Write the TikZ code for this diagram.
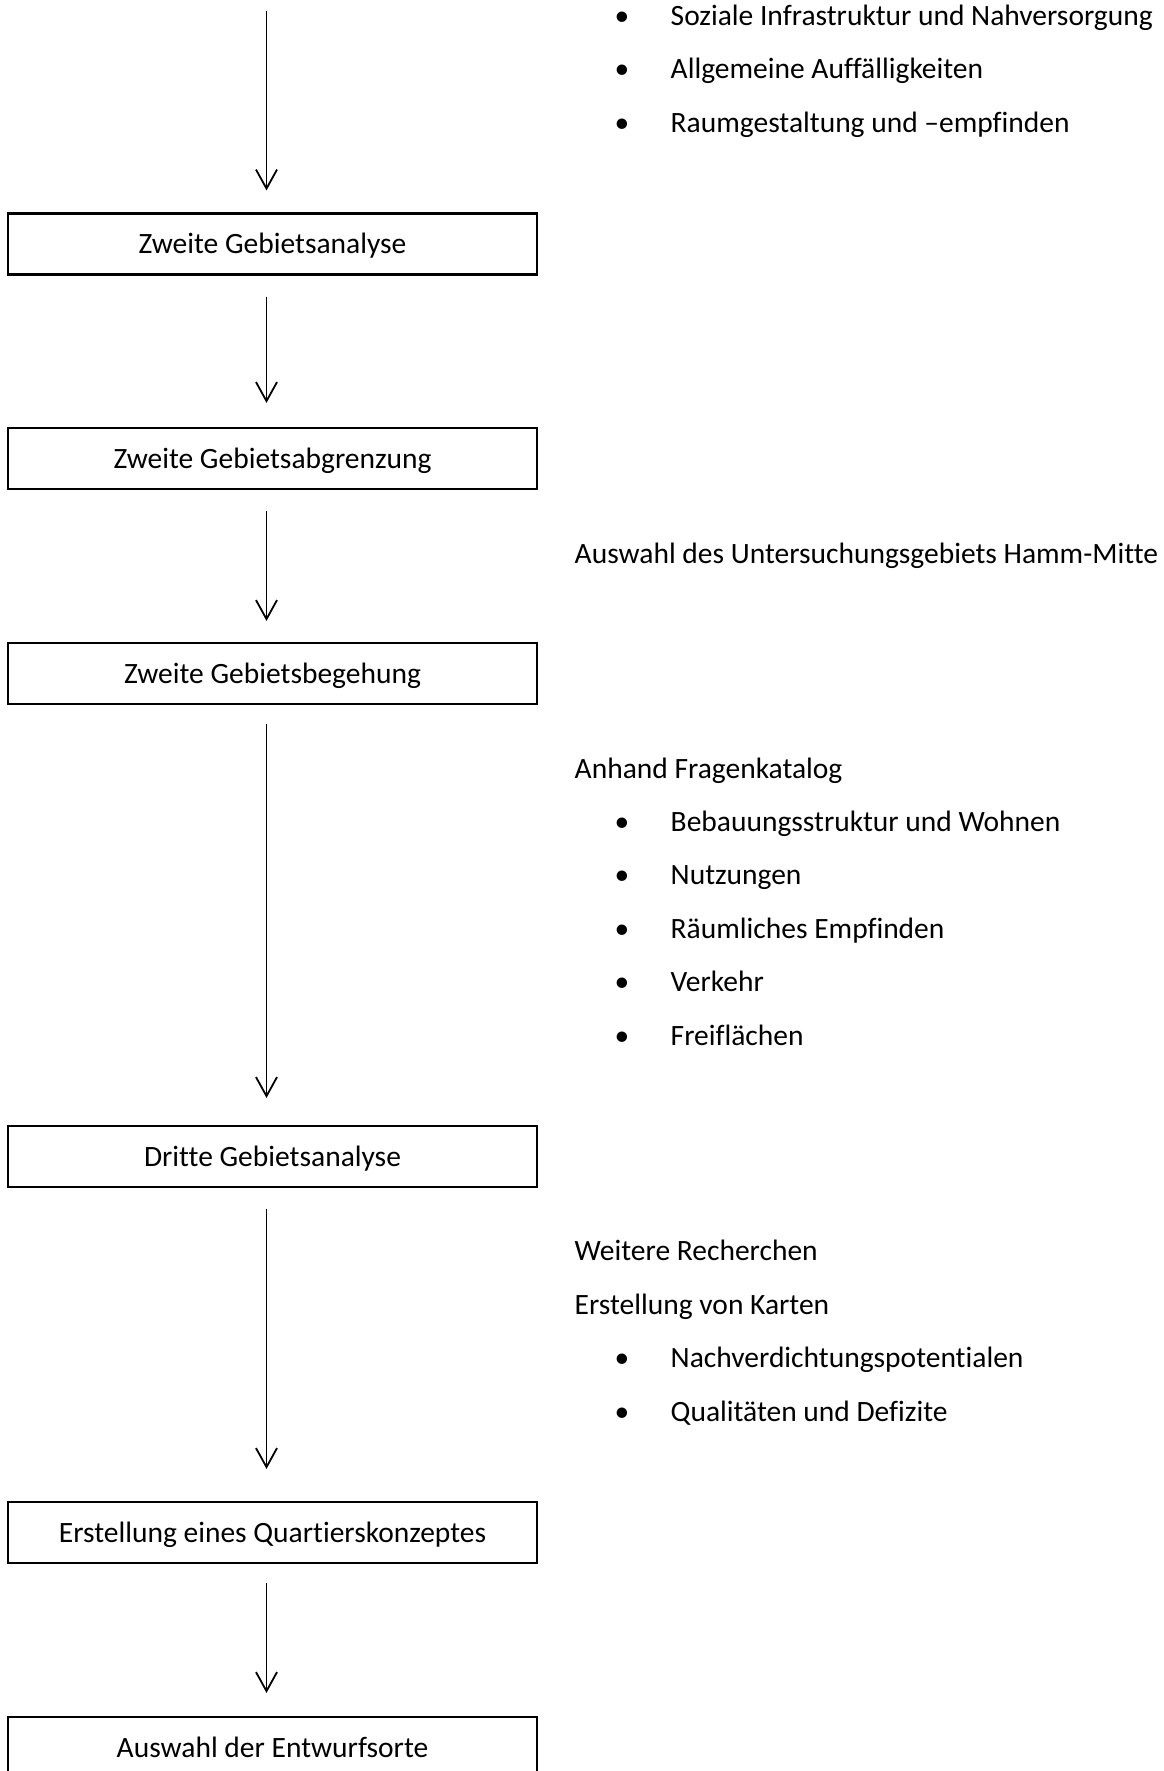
\documentclass[tikz,border=0pt]{standalone}
\usepackage{fontspec}
\setmainfont{Carlito}[Ligatures={NoCommon,NoContextual}]
\usetikzlibrary{arrows.meta}
\begin{document}
\begin{tikzpicture}[x=1pt,y=-1pt,
  stepbox/.style={draw,line width=2.1pt,minimum width=529pt,minimum height=61pt,inner sep=0pt,anchor=center},
  boxtext/.style={anchor=mid,inner sep=0pt,font=\fontsize{29.5}{34}\selectfont},
  lbl/.style={anchor=mid west,inner sep=0pt,font=\fontsize{29.5}{34}\selectfont},
  bul/.style={anchor=mid,inner sep=0pt,font=\fontsize{29.5}{34}\selectfont},
  arr/.style={line width=1.8pt,-{Straight Barb[length=19pt,width=21pt,line width=1.8pt]}}]
\useasboundingbox (0,0) rectangle (1163,1771);
\begin{scope}
\clip (0,0) rectangle (1163,1771);
\node[stepbox] (b1) at (272.5,244) {};
\node[stepbox] (b2) at (272.5,458.5) {};
\node[stepbox] (b3) at (272.5,673.5) {};
\node[stepbox] (b4) at (272.5,1156.5) {};
\node[stepbox] (b5) at (272.5,1532.5) {};
\node[stepbox] (b6) at (272.5,1747.5) {};
\node[boxtext] (l1) at ([yshift=-7.5pt]b1.center) {Zweite Gebietsanalyse};
\node[boxtext] (l2) at ([yshift=-7.5pt]b2.center) {Zweite Gebietsabgrenzung};
\node[boxtext] (l3) at ([yshift=-7.5pt]b3.center) {Zweite Gebietsbegehung};
\node[boxtext] (l4) at ([yshift=-7.5pt]b4.center) {Dritte Gebietsanalyse};
\node[boxtext] (l5) at ([yshift=-7.5pt]b5.center) {Erstellung eines Quartierskonzeptes};
\node[boxtext] (l6) at ([yshift=-7.5pt]b6.center) {Auswahl der Entwurfsorte};
\coordinate (top) at (266.5,11);
\draw[arr] (top) -- ([xshift=-6pt,yshift=22pt]b1.north);
\draw[arr] ([xshift=-6pt,yshift=-21pt]b1.south) -- ([xshift=-6pt,yshift=24pt]b2.north);
\draw[arr] ([xshift=-6pt,yshift=-21pt]b2.south) -- ([xshift=-6pt,yshift=21pt]b3.north);
\draw[arr] ([xshift=-6pt,yshift=-19pt]b3.south) -- ([xshift=-6pt,yshift=27pt]b4.north);
\draw[arr] ([xshift=-6pt,yshift=-21pt]b4.south) -- ([xshift=-6pt,yshift=32pt]b5.north);
\draw[arr] ([xshift=-6pt,yshift=-19pt]b5.south) -- ([xshift=-6pt,yshift=23pt]b6.north);
% right side texts
\node[bul] (u1) at (622,23) {•};
\node[lbl] (t1) at (670.5,23) {Soziale Infrastruktur und Nahversorgung};
\node[bul] (u2) at (622,76) {•};
\node[lbl] (t2) at (670.5,76) {Allgemeine Auffälligkeiten};
\node[bul] (u3) at (622,130) {•};
\node[lbl] (t3) at (670.5,130) {Raumgestaltung und –empfinden};
\node[lbl] (t4) at (574.5,561) {Auswahl des Untersuchungsgebiets Hamm-Mitte};
\node[lbl] (t5) at (574.5,776) {Anhand Fragenkatalog};
\node[bul] (u6) at (622,829) {•};
\node[lbl] (t6) at (670.5,829) {Bebauungsstruktur und Wohnen};
\node[bul] (u7) at (622,882) {•};
\node[lbl] (t7) at (670.5,882) {Nutzungen};
\node[bul] (u8) at (622,936) {•};
\node[lbl] (t8) at (670.5,936) {Räumliches Empfinden};
\node[bul] (u9) at (622,989) {•};
\node[lbl] (t9) at (670.5,989) {Verkehr};
\node[bul] (u10) at (622,1043) {•};
\node[lbl] (t10) at (670.5,1043) {Freiflächen};
\node[lbl] (t11) at (574.5,1258) {Weitere Recherchen};
\node[lbl] (t12) at (574.5,1312) {Erstellung von Karten};
\node[bul] (u13) at (622,1365) {•};
\node[lbl] (t13) at (670.5,1365) {Nachverdichtungspotentialen};
\node[bul] (u14) at (622,1419) {•};
\node[lbl] (t14) at (670.5,1419) {Qualitäten und Defizite};
\end{scope}
\end{tikzpicture}
\end{document}
